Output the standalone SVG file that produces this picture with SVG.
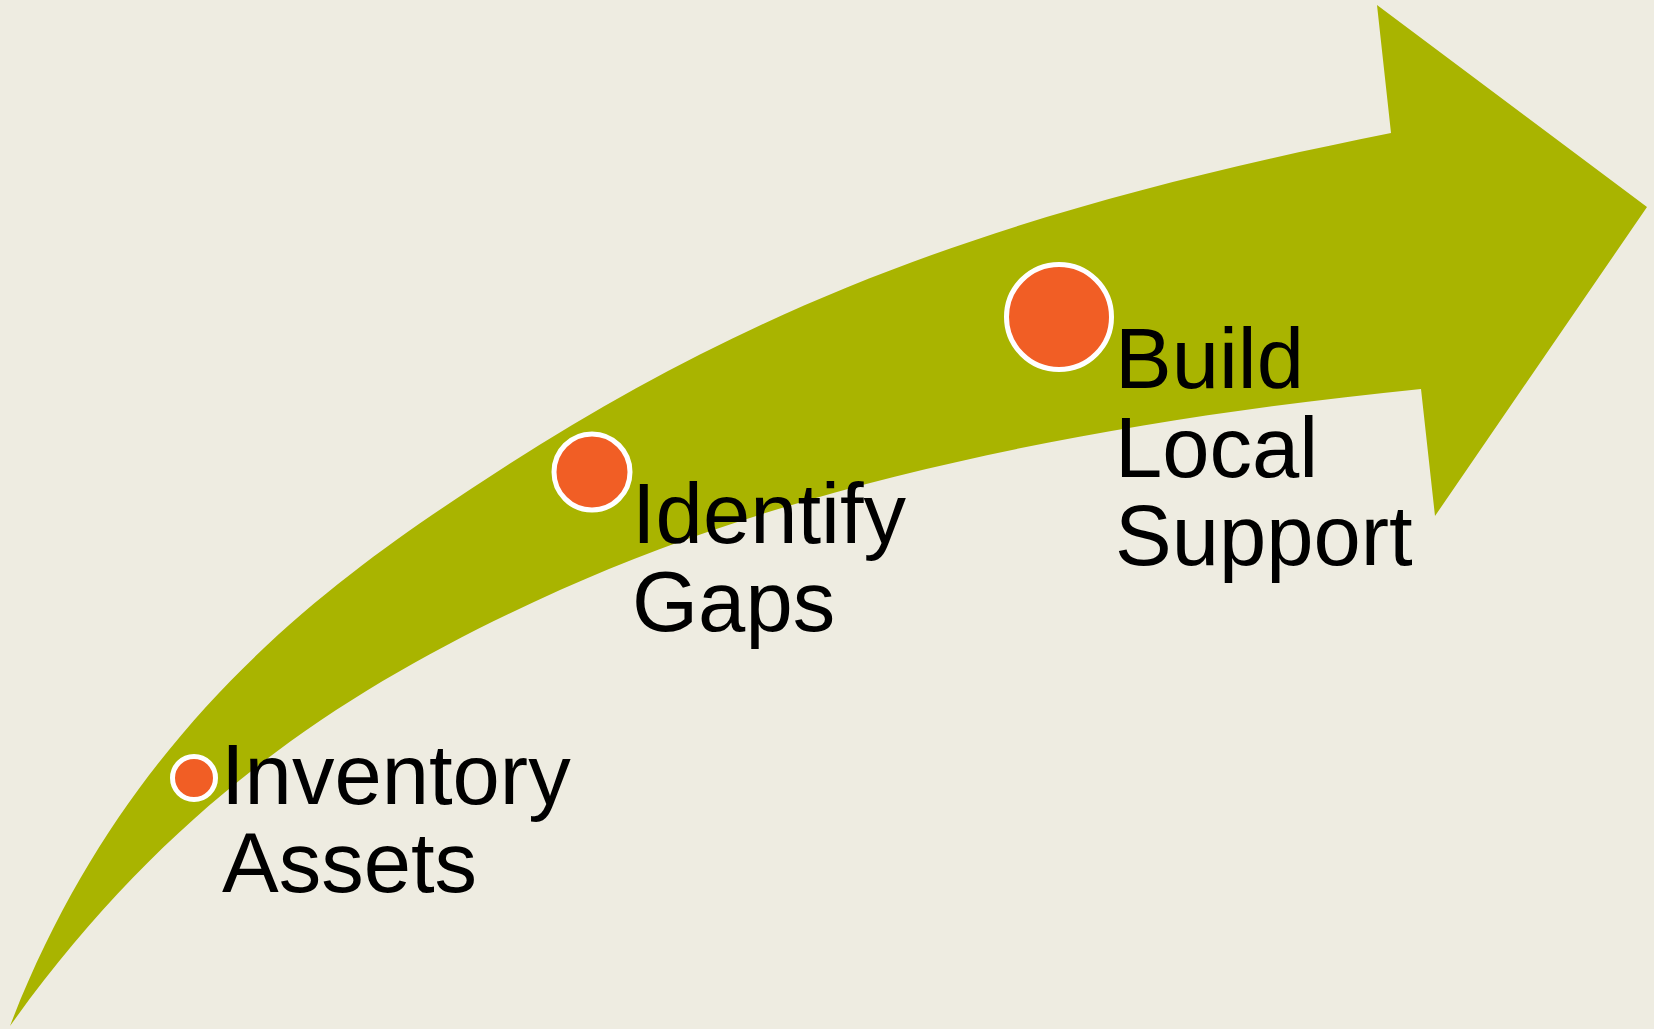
<svg xmlns="http://www.w3.org/2000/svg" width="1654" height="1029" viewBox="0 0 1654 1029">
<style>
.bg{fill:#EEECE1}
.arrow{fill:#A9B400}
.dot{fill:#F15E25;stroke:#FFFFFF;stroke-width:5}
.lbl{font-family:"Liberation Sans",Arial,sans-serif;font-size:85px;fill:#000000}
</style>
<rect class="bg" x="0" y="0" width="1654" height="1029"/>
<g id="arrow">
<path class="arrow" d="M10,1026 C130,714 350,567.5 500,470 C780,288 1041,203 1391,133 L1377,5 L1647,207 L1435,516 L1421,389 C1121,419 810,477.5 560,590 C360,680 175,795 10,1026 Z"/>
</g>
<g id="node-inventory">
<circle class="dot" cx="194" cy="778" r="21.5"/>
<text class="lbl" x="221" y="804">Inventory</text>
<text class="lbl" x="222" y="892">Assets</text>
</g>
<g id="node-identify">
<circle class="dot" cx="592" cy="472" r="38"/>
<text class="lbl" x="632" y="543">Identify</text>
<text class="lbl" x="632" y="631">Gaps</text>
</g>
<g id="node-build">
<circle class="dot" cx="1059" cy="317" r="52.5"/>
<text class="lbl" x="1115" y="388">Build</text>
<text class="lbl" x="1115" y="477">Local</text>
<text class="lbl" x="1115" y="565">Support</text>
</g>
<g id="connectors"></g>
</svg>
